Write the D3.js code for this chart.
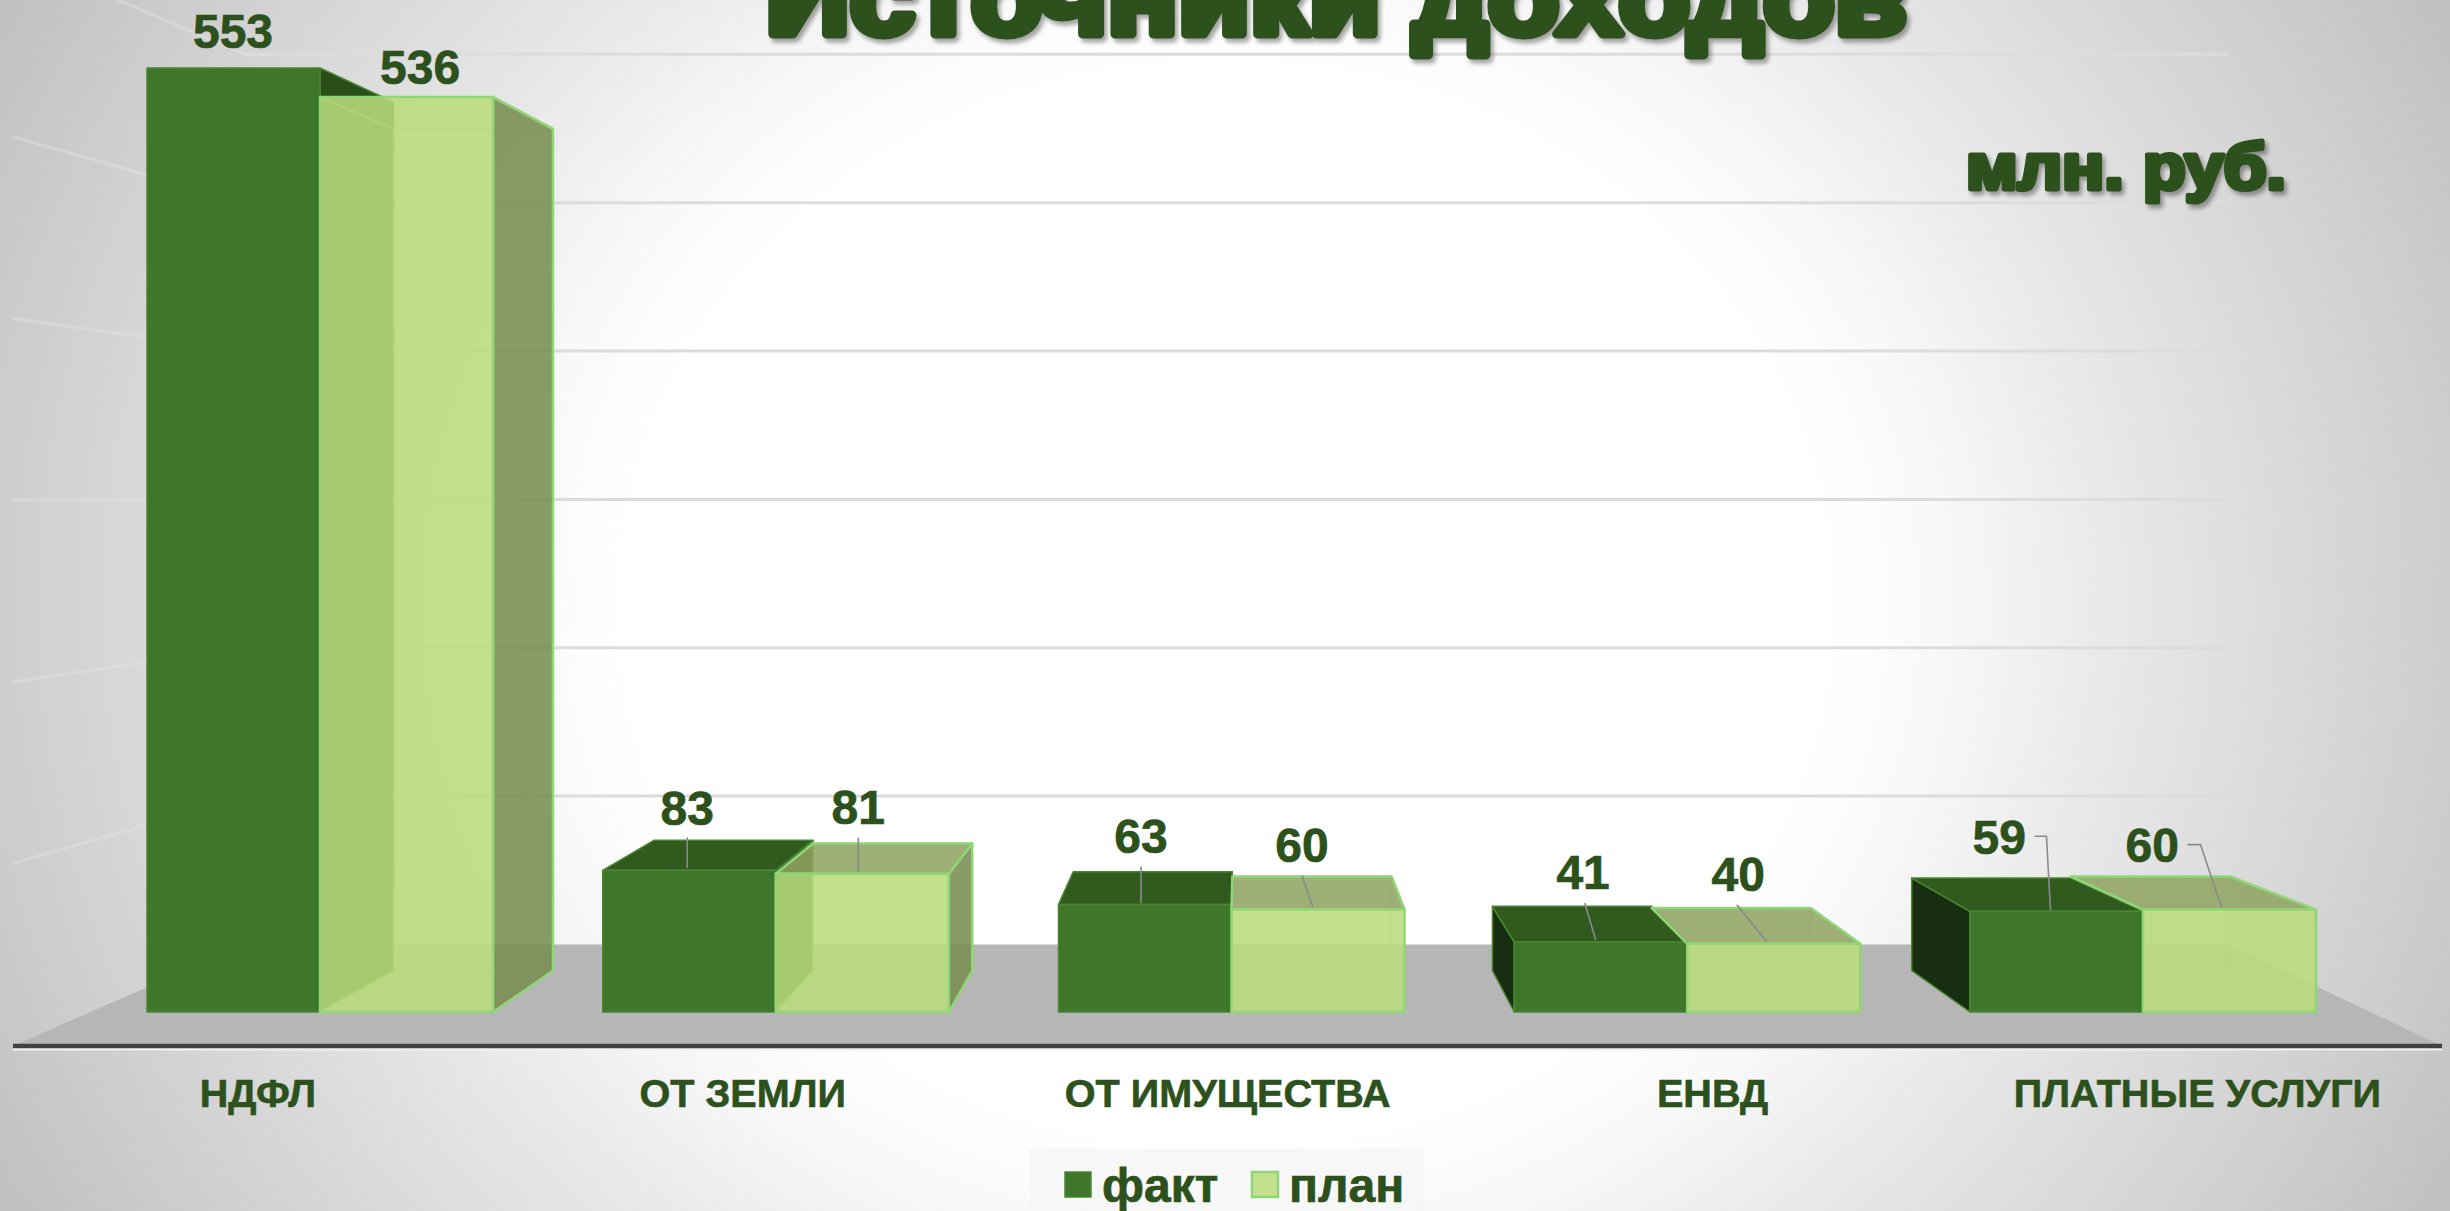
<!DOCTYPE html>
<html lang="ru">
<head>
<meta charset="utf-8">
<style>
html,body{margin:0;padding:0;background:#fff;overflow:hidden}
svg{display:block}
text{font-family:"Liberation Sans",Arial,sans-serif;font-weight:700;fill:#2D511C}
</style>
<script src="https://cdn.jsdelivr.net/npm/d3@7/dist/d3.min.js"></script>
</head>
<body>
<svg id="chart" width="2450" height="1211" xmlns="http://www.w3.org/2000/svg"></svg>
<script>
// ---- data ----
const categories = ["НДФЛ", "ОТ ЗЕМЛИ", "ОТ ИМУЩЕСТВА", "ЕНВД", "ПЛАТНЫЕ УСЛУГИ"];
const seriesNames = ["факт", "план"];
const factValues = [553, 83, 63, 41, 59];
const planValues = [536, 81, 60, 40, 60];
const gridTicks = [100, 200, 300, 400, 500, 600];
const titleText = "Источники доходов";
const unitText = "млн. руб.";

// ---- layout ----
const W = 2450, H = 1211;
const VP = {x: 1242, y: 496};          // vanishing point used for the bar depth
const BAR_BACK = 0.92;
const project = (x, y, s) => [VP.x + (x - VP.x) * s, VP.y + (y - VP.y) * s];

const x0 = d3.scaleBand().domain(categories).range([147, 2316]).paddingInner(0.2407).paddingOuter(0);
const x1 = d3.scaleBand().domain(seriesNames).range([0, x0.bandwidth()]);
const y = d3.scaleLinear().domain([0, 600]).range([1012, 1012 - 600 * 1.707]);

// the back wall is the front plane of the bars seen 0.869 times as large
const WALL = {left: 245, right: 2228, frontLeft: 13, frontRight: 2442, cy: 496, k: 0.869};
const wallY = v => WALL.cy + (y(v) - WALL.cy) * WALL.k;
const floorBackY = wallY(0), floorFrontY = 1046;
const wallFrontY = v => WALL.cy + (wallY(v) - WALL.cy) * 1.225;
const labelX = c => 1276 + (x0(c) + x0.bandwidth() / 2 - 1276) * 1.064 - 1;

const svg = d3.select("#chart");
const defs = svg.append("defs");

const bg = defs.append("radialGradient").attr("id", "bg")
  .attr("gradientUnits", "userSpaceOnUse")
  .attr("cx", 0).attr("cy", 0).attr("r", 1)
  .attr("gradientTransform", "translate(1225 605) scale(1470 1320)");
[[0, "#ffffff"], [0.41, "#ffffff"], [0.49, "#f8f8f8"], [0.60, "#e9e9e9"], [0.72, "#dbdbdb"], [0.833, "#cecece"], [0.95, "#c0c0c0"], [1, "#bcbcbc"]]
  .forEach(([o, c]) => bg.append("stop").attr("offset", o).attr("stop-color", c));
svg.append("rect").attr("width", W).attr("height", H).attr("fill", "url(#bg)");

const line = d3.line();
const poly = pts => line(pts) + "Z";

// ---- back wall, side wall, floor ----
svg.append("path").attr("fill", "#b6b6b6")
  .attr("d", poly([[WALL.frontLeft, floorFrontY], [WALL.left, floorBackY], [WALL.right, floorBackY], [WALL.frontRight, floorFrontY]]));

svg.append("g").selectAll("path").data(gridTicks).join("path")
  .attr("fill", "none").attr("stroke", "#e2e2e2").attr("stroke-opacity", 0.45).attr("stroke-width", 3)
  .attr("d", t => line([[WALL.frontLeft, wallFrontY(t)], [WALL.left, wallY(t)]]));
svg.append("g").selectAll("line").data(gridTicks).join("line")
  .attr("x1", WALL.left).attr("x2", WALL.right)
  .attr("y1", wallY).attr("y2", wallY)
  .attr("stroke", "#dcdcdc").attr("stroke-width", 3);

svg.append("line").attr("x1", WALL.frontLeft).attr("x2", WALL.frontRight)
  .attr("y1", floorFrontY + 3).attr("y2", floorFrontY + 3)
  .attr("stroke", "#f0f0f0").attr("stroke-width", 3);
svg.append("line").attr("x1", WALL.frontLeft).attr("x2", WALL.frontRight)
  .attr("y1", floorFrontY).attr("y2", floorFrontY)
  .attr("stroke", "#404040").attr("stroke-width", 4.5);

// ---- bars ----
const styles = {
  "факт": {front: "#3F772A", top: "#305A1E", left: "#182E10", right: "#2B4E18",
           stroke: "#4a8534", sw: 1.5, alpha: 1},
  "план": {front: "#BADB7C", top: "#90A462", left: null, right: "#788C4F",
           stroke: "#90D677", sw: 2.5, alpha: 0.87}
};
const rows = [];
seriesNames.forEach((s, si) => {
  const vals = si === 0 ? factValues : planValues;
  categories.forEach((c, ci) => rows.push({series: s, cat: c, value: vals[ci], ci, si}));
});

function box(d) {
  const l = x0(d.cat) + x1(d.series), r = l + x1.bandwidth();
  const t = y(d.value), b = y(0), k = BAR_BACK;
  const f = {tl: [l, t], tr: [r, t], br: [r, b], bl: [l, b]};
  const g = {tl: project(l, t, k), tr: project(r, t, k), br: project(r, b, k), bl: project(l, b, k)};
  return {f, g, l, r, t};
}

const barG = svg.append("g");
rows.forEach((d, i) => {
  const st = styles[d.series], {f, g, l, r, t} = box(d);
  const node = barG.append("g");
  const face = (pts, fill) => node.append("path").attr("d", poly(pts))
    .attr("fill", fill).attr("fill-opacity", st.alpha)
    .attr("stroke", st.stroke).attr("stroke-width", st.sw).attr("stroke-linejoin", "round");
  if (d.series === "план") {
    // the far edges show faintly through the translucent box, never over the solid neighbour
    const clipId = "far" + i;
    defs.append("clipPath").attr("id", clipId).append("rect")
      .attr("x", l).attr("y", 0).attr("width", W - l).attr("height", H);
    node.append("path").attr("fill", "none").attr("stroke", "#a9dc80")
      .attr("clip-path", `url(#${clipId})`)
      .attr("stroke-opacity", 0.5).attr("stroke-width", 2)
      .attr("d", poly([g.tl, g.tr, g.br, g.bl]) + line([f.bl, g.bl]) + line([f.br, g.br]) + line([f.tl, g.tl]) + line([f.tr, g.tr]));
  }
  if (r < VP.x && st.right) face([f.tr, g.tr, g.br, f.br], st.right);
  if (l > VP.x && st.left) face([f.tl, g.tl, g.bl, f.bl], st.left);
  if (t > VP.y) face([f.tl, f.tr, g.tr, g.tl], st.top);
  face([f.tl, f.tr, f.br, f.bl], st.front);
});

// ---- value labels with leader lines: offsets from the centre of each bar's front top edge ----
const labelOffsets = [
  [-0.5, -37], [-2, -63], [-4, -68.5], [-17.6, -70], [-57.3, -75],
  [13.5, -30], [-4, -67], [-16, -65], [-35.6, -70], [-77.3, -65]
];
const leaderOffsets = [
  null, [[-2, -33], [-2, -2]], [[-4, -38], [-4, -1]], [[-16, -39], [-5, -2]], [[-22, -75], [-10, -75], [-6, -1]],
  null, [[-4, -36], [-4, -2]], [[-16, -34], [-5, -2]], [[-37, -39], [-7, -2]], [[-42, -65], [-29, -65], [-8, -2]]
];
const anchor = d => [x0(d.cat) + x1(d.series) + x1.bandwidth() / 2, y(d.value)];

svg.append("g").selectAll("path").data(rows).join("path")
  .attr("fill", "none").attr("stroke", "#8a8a8a").attr("stroke-width", 1.6)
  .attr("d", (d, i) => {
    const o = leaderOffsets[i];
    if (!o) return null;
    const [ax, ay] = anchor(d);
    return line(o.map(([dx, dy]) => [ax + dx, ay + dy]));
  });

svg.append("g").selectAll("text").data(rows).join("text")
  .attr("x", (d, i) => anchor(d)[0] + labelOffsets[i][0])
  .attr("y", (d, i) => anchor(d)[1] + labelOffsets[i][1])
  .attr("dy", "0.36em").attr("text-anchor", "middle").attr("font-size", 48)
  .attr("stroke", "#2D511C").attr("stroke-width", 0.7)
  .text(d => d.value);

// ---- category labels ----
svg.append("g").selectAll("text").data(categories).join("text")
  .attr("x", labelX).attr("y", 1107).attr("text-anchor", "middle").attr("font-size", 39.6)
  .attr("stroke", "#2D511C").attr("stroke-width", 0.6)
  .text(c => c);

// ---- legend ----
svg.append("rect").attr("x", 1030).attr("y", 1149).attr("width", 394).attr("height", 62)
  .attr("fill", "#f6f6f6").attr("fill-opacity", 0.85);
const legendX = {"факт": 1065, "план": 1252};
const lg = svg.append("g").selectAll("g").data(seriesNames).join("g")
  .attr("transform", s => `translate(${legendX[s]},1172)`);
lg.append("rect").attr("width", 26).attr("height", 25)
  .attr("fill", s => s === "план" ? "#C3E08D" : styles[s].front)
  .attr("stroke", s => styles[s].stroke).attr("stroke-width", s => styles[s].sw);
lg.append("text").attr("x", 37).attr("y", 30).attr("font-size", 48)
  .attr("stroke", "#2D511C").attr("stroke-width", 0.7).text(s => s);

// ---- title and unit ----
const shadow = "drop-shadow(3px 4px 2px rgba(0,0,0,0.35))";
svg.append("text").attr("x", 765.5).attr("y", 34)
  .attr("font-size", 106).attr("stroke", "#2D511C").attr("stroke-width", 9).attr("stroke-linejoin", "round")
  .attr("textLength", 1141).attr("lengthAdjust", "spacingAndGlyphs")
  .style("filter", shadow).text(titleText);
svg.append("text").attr("x", 1966).attr("y", 189)
  .attr("font-size", 64).attr("stroke", "#2D511C").attr("stroke-width", 5).attr("stroke-linejoin", "round")
  .attr("textLength", 320).attr("lengthAdjust", "spacingAndGlyphs")
  .style("filter", shadow).text(unitText);
</script>
</body>
</html>
